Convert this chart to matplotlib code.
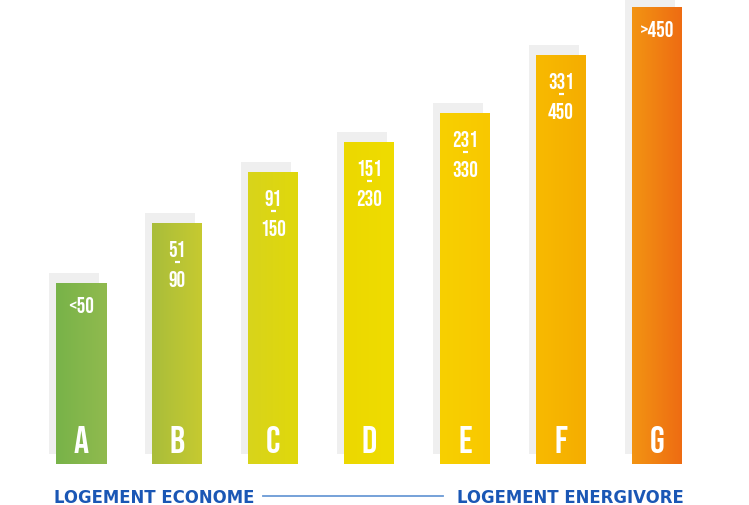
import numpy as np
import matplotlib.pyplot as plt
from matplotlib.colors import LinearSegmentedColormap

# energy classes (kWh/m2/an)
letters = ['A', 'B', 'C', 'D', 'E', 'F', 'G']
ranges = ['<50', '51\n90', '91\n150', '151\n230', '231\n330', '331\n450', '>450']
heights = [181, 241, 292, 322, 351, 409, 457]
left_colors = ['#78b349', '#a9bd3b', '#d8d41b', '#ecd800', '#f7d000', '#f8ba00', '#f39412']
right_colors = ['#90ba4e', '#c6ca30', '#e0d80c', '#efdc00', '#f9c800', '#f5ad00', '#ee6c12']

W, H = 749, 506
fig = plt.figure(figsize=(W / 100, H / 100), dpi=100)
ax = fig.add_axes([0, 0, 1, 1])
# 96 px between bar centres, first centre at 81 px; 1 unit = 1 px vertically
ax.set_xlim(-81 / 96, (W - 81) / 96)
ax.set_ylim(-41, H - 41)
ax.axis('off')

narrow = ['Bebas Neue', 'DejaVu Sans']
bw = 50 / 96
dx = 7 / 96
x = np.arange(len(letters))

# shadows
ax.bar(x - dx, heights, width=bw, bottom=10, color='#efefef', zorder=1)
bars = ax.bar(x, heights, width=bw, color='none', zorder=2)

grad = np.linspace(0, 1, 64).reshape(1, -1)
for i, b in enumerate(bars):
    cmap = LinearSegmentedColormap.from_list('g%d' % i, [left_colors[i], right_colors[i]])
    x0, w, h = b.get_x(), b.get_width(), b.get_height()
    im = ax.imshow(grad, cmap=cmap, aspect='auto', extent=[x0, x0 + w, 0, h],
                   zorder=3, interpolation='bilinear')
    im.set_clip_path(b)

    ax.text(x[i], 25, letters[i], ha='center', va='center', color='white',
            fontsize=27, family=narrow, zorder=4)

    parts = ranges[i].split('\n')
    if len(parts) == 1:
        ax.text(x[i], h - 21, parts[0], ha='center', va='center', color='white',
                fontsize=15.5, family=narrow, zorder=4)
    else:
        ax.text(x[i], h - 25, parts[0], ha='center', va='center', color='white',
                fontsize=15.5, family=narrow, zorder=4)
        ax.plot([x[i] - 2.5 / 96, x[i] + 2.5 / 96], [h - 39, h - 39], color='white',
                lw=1.6, solid_capstyle='butt', zorder=4)
        ax.text(x[i], h - 55, parts[1], ha='center', va='center', color='white',
                fontsize=15.5, family=narrow, zorder=4)

# bottom scale
blue = '#1a57b5'
fig.text(54 / W, 1 - 498 / H, 'LOGEMENT ECONOME', ha='left', va='center',
         color=blue, fontsize=11.9, fontweight='bold', family='DejaVu Sans')
fig.text(684 / W, 1 - 498 / H, 'LOGEMENT ENERGIVORE', ha='right', va='center',
         color=blue, fontsize=11.9, fontweight='bold', family='DejaVu Sans')
fig.add_artist(plt.Line2D([263 / W, 443 / W], [1 - 497 / H, 1 - 497 / H],
                          color='#6a9ad6', lw=1.3))

fig.savefig('out.png', dpi=100)
